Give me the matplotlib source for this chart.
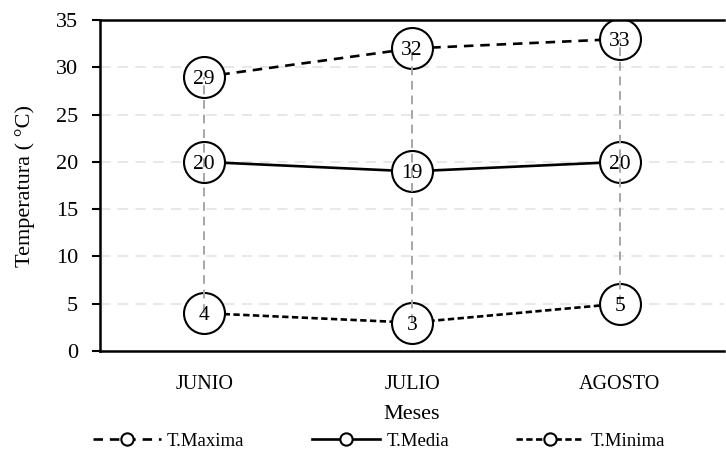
import matplotlib.pyplot as plt

plt.rcParams["font.family"] = ["Liberation Serif", "DejaVu Serif"]

meses = ["JUNIO", "JULIO", "AGOSTO"]
t_max = [29, 32, 33]
t_media = [20, 19, 20]
t_min = [4, 3, 5]

fig, ax = plt.subplots(figsize=(7.26, 4.57), dpi=100)
fig.subplots_adjust(left=0.138, right=0.997, top=0.956, bottom=0.232)

x = list(range(len(meses)))

# grid
for v in range(5, 35, 5):
    ax.axhline(v, color="#e8e8e8", lw=1.5, ls=(0, (5, 3.5)), zorder=0)

mk = dict(marker="o", ms=29.5, mfc="white", mec="black", mew=1.5, color="black", lw=1.9)
ax.plot(x, t_max, ls=(0, (3.6, 2.6)), label="T.Maxima", zorder=2, **mk)
ax.plot(x, t_media, ls="-", label="T.Media", zorder=2, **mk)
ax.plot(x, t_min, ls=(0, (2.4, 1.3)), label="T.Minima", zorder=2, **mk)

# high-low lines
for i in x:
    ax.plot([i, i], [t_min[i], t_max[i]], color="#a6a6a6", lw=1.4,
            ls=(0, (4.5, 3)), zorder=3)

for serie in (t_max, t_media, t_min):
    for i, v in zip(x, serie):
        ax.annotate(str(v), (i, v), xytext=(0, -1.8), textcoords="offset points",
                    ha="center", va="center", fontsize=15.5, zorder=4)

ax.set_xlim(-0.5, 2.5)
ax.set_ylim(0, 35)
ax.set_yticks(range(0, 36, 5))
ax.set_xticks(x)
ax.set_xticklabels(meses)
ax.tick_params(axis="x", length=0, pad=17, labelsize=14.5)
ax.tick_params(axis="y", length=6, width=1.5, labelsize=16, direction="out", pad=10)
ax.spines["right"].set_visible(False)
for s in ("left", "top", "bottom"):
    ax.spines[s].set_linewidth(1.8)

ax.set_xlabel("Meses", fontsize=16, labelpad=8)
ax.set_ylabel("Temperatura ( °C)", fontsize=16, labelpad=15)

handles, labels = ax.get_legend_handles_labels()
leg = fig.legend(handles, labels, loc="center", ncol=3, frameon=False,
                 fontsize=13.5, markerscale=0.3, handlelength=3.6,
                 handletextpad=0.35, columnspacing=3.6,
                 bbox_to_anchor=(0.522, 16 / 457))

fig.savefig("out.png", dpi=100)
